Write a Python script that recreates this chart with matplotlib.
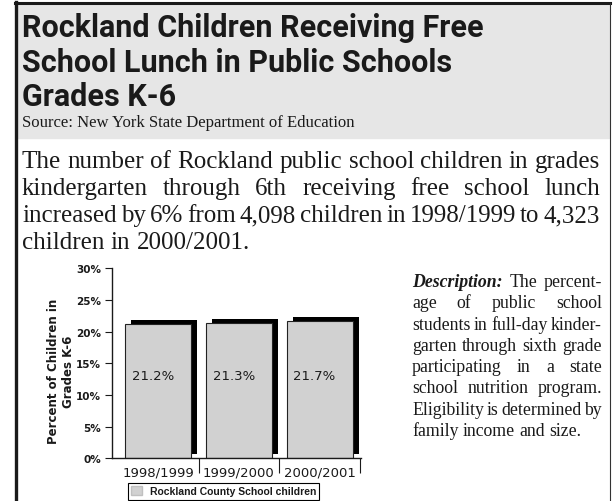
import matplotlib
matplotlib.use("Agg")
import matplotlib.pyplot as plt
import numpy as np
from matplotlib.patches import Rectangle
from matplotlib.lines import Line2D

# Data
years = ["1998/1999", "1999/2000", "2000/2001"]
percent = [21.2, 21.3, 21.7]
value_labels = ["21.2%", "21.3%", "21.7%"]
yticks = [0, 5, 10, 15, 20, 25, 30]
series_name = "Rockland County School children"

title_lines = ["Rockland Children Receiving Free",
               "School Lunch in Public Schools",
               "Grades K-6"]
source = "Source: New York State Department of Education"
intro_lines = [
    "The number of Rockland public school children in grades",
    "kindergarten through 6th receiving free school lunch",
    "increased by 6% from 4,098 children in 1998/1999 to 4,323",
    "children in 2000/2001.",
]
desc_lines = [
    "Description: The percent-",
    "age of public school",
    "students in full-day kinder-",
    "garten through sixth grade",
    "participating in a state",
    "school nutrition program.",
    "Eligibility is determined by",
    "family income and size.",
]

W, H = 615, 502
fig = plt.figure(figsize=(W / 100, H / 100), dpi=100)
renderer = fig.canvas.get_renderer()


def fx(x):
    return x / W


def fy(y):
    return 1 - y / H


ink = "#1a1a1a"
serif = ["Liberation Serif", "DejaVu Serif"]
narrow = ["Roboto", "DejaVu Sans"]

# header panel and frame
fig.patches.append(Rectangle((fx(18), fy(139)), fx(609) - fx(18), fy(5) - fy(139),
                             transform=fig.transFigure, color="#e6e6e6", zorder=0))
fig.add_artist(Line2D([fx(16), fx(16)], [fy(3), 0], lw=2.4, color=ink))
fig.add_artist(Line2D([fx(14.5), fx(610)], [fy(4), fy(4)], lw=2.2, color=ink))
fig.add_artist(Line2D([fx(609.5), fx(609.5)], [fy(4), 0], lw=0.8, color="#333333"))

for i, line in enumerate(title_lines):
    fig.text(fx(22), fy(37 + i * 34.5), line, fontsize=22, weight="bold",
             family=narrow, color=ink, va="baseline")
fig.text(fx(22), fy(127), source, fontsize=12, family=serif, color=ink, va="baseline")


def justified(lines, x0, x1, base0, step, size, styled=None):
    styled = styled or {}
    # shrink the size until every line fits the column
    while True:
        rows = []
        fits = True
        for line in lines:
            texts = []
            for w in line.split(" "):
                kw = dict(fontsize=size, family=serif, color=ink, va="baseline")
                kw.update(styled.get(w, {}))
                texts.append(fig.text(0, 0, w, **kw))
            widths = [t.get_window_extent(renderer).width for t in texts]
            rows.append((texts, widths))
            if sum(widths) + 0.2 * size * (len(texts) - 1) > x1 - x0:
                fits = False
        if fits:
            break
        for texts, _ in rows:
            for t in texts:
                t.remove()
        size -= 0.25
    space = 0.25 * size * 100 / 72
    for i, (texts, widths) in enumerate(rows):
        gap = space
        if i < len(rows) - 1 and len(texts) > 1:
            gap = (x1 - x0 - sum(widths)) / (len(texts) - 1)
        x = x0
        for t, wd in zip(texts, widths):
            t.set_position((fx(x), fy(base0 + i * step)))
            x += wd + gap


justified(intro_lines, 22, 600, 168, 27, 19)
justified(desc_lines, 412, 602, 287, 21.3, 13,
          styled={"Description:": dict(weight="bold", style="italic")})

# chart
ax = fig.add_axes([fx(112), fy(459.3), fx(361) - fx(112), fy(269.3) - fy(459.3)])
x = np.arange(len(years))
bw = 0.82
dx, dh = 0.074, 0.63
ax.bar(x + dx, percent, width=bw, bottom=dh, color="black", zorder=1)
ax.bar(x, percent, width=bw, color="#d1d1d1", edgecolor="#222222",
       linewidth=0.8, zorder=2)
for xi, lbl in zip(x, value_labels):
    ax.text(xi - 0.065, 13, lbl, ha="center", va="center", fontsize=9.5,
            weight="medium", color=ink, zorder=3)

ax.set_xlim(-0.57, 2.51)
ax.set_ylim(0, 30)
for s in ["top", "right"]:
    ax.spines[s].set_visible(False)
for s in ["left", "bottom"]:
    ax.spines[s].set_linewidth(1.0)
    ax.spines[s].set_color(ink)
ax.set_yticks(yticks)
ax.set_yticklabels([f"{v}%" for v in yticks], fontsize=7.5, weight="bold", color=ink)
ax.tick_params(axis="y", length=5, width=0.8, pad=3, color=ink)
ax.set_xticks(x)
ax.set_xticklabels(years, fontsize=9.5, color=ink)
ax.tick_params(axis="x", length=0, pad=5)
ax.set_xticks([0.5, 1.5, 2.5], minor=True)
ax.tick_params(axis="x", which="minor", length=11, width=0.8, color=ink)

fig.text(fx(61), fy(371.5), "Percent of Children in\nGrades K-6", rotation=90,
         ha="center", va="center", multialignment="center", fontsize=8.5,
         weight="bold", color=ink, linespacing=1.1)

handle = Rectangle((0, 0), 1, 1, facecolor="#d1d1d1", edgecolor="#c0c0c0")
leg = fig.legend([handle], [series_name], loc="lower left",
                 bbox_to_anchor=(fx(128), fy(500.5)), bbox_transform=fig.transFigure,
                 fancybox=False, edgecolor="black", framealpha=1, borderpad=0.3,
                 handlelength=1.0, handleheight=1.0, handletextpad=0.8,
                 borderaxespad=0,
                 prop=dict(family="Liberation Sans", weight="bold", size=7.5))
leg.get_frame().set_linewidth(0.8)
for t in leg.get_texts():
    t.set_color(ink)

fig.savefig("out.png", dpi=100)
